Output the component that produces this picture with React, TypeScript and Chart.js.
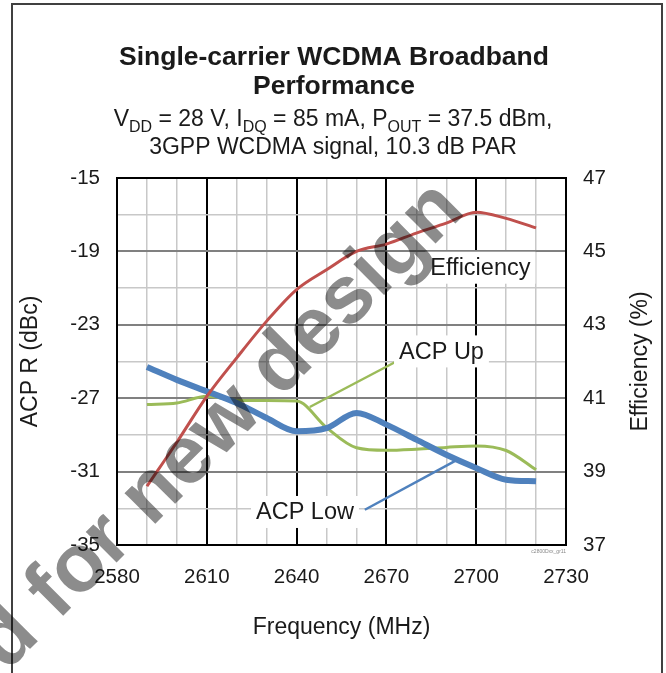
import { useEffect, useRef } from "react";
import { Chart, registerables } from "chart.js";

Chart.register(...registerables);

const frequencies = [2590, 2600, 2610, 2620, 2630, 2640, 2650, 2660, 2670, 2680, 2690, 2700, 2710, 2720];
const efficiency = [38.6, 39.8, 41.05, 42.1, 43.1, 43.96, 44.5, 45.0, 45.2, 45.5, 45.77, 46.07, 45.9, 45.64];
const acpLow = [-25.3, -26.0, -26.63, -27.26, -28.08, -28.8, -28.63, -27.8, -28.44, -29.26, -30.08, -30.8, -31.44, -31.53];
const acpUp = [-27.35, -27.26, -26.9, -27.12, -27.12, -27.15, -28.6, -29.7, -29.84, -29.78, -29.68, -29.6, -29.85, -30.9];

const titleLines = ["Single-carrier WCDMA Broadband", "Performance"];
const xTitle = "Frequency (MHz)";
const yLeftTitle = "ACP R (dBc)";
const yRightTitle = "Efficiency (%)";

const FONT = "'Liberation Sans', Arial, sans-serif";
const TEXT = "#1a1a1a";

type Run = { t: string; sub?: boolean };
const subtitle1: Run[] = [
  { t: "V" }, { t: "DD", sub: true }, { t: " = 28 V, I" }, { t: "DQ", sub: true },
  { t: " = 85 mA, P" }, { t: "OUT", sub: true }, { t: " = 37.5 dBm," },
];
const subtitle2 = "3GPP WCDMA signal, 10.3 dB PAR";

function drawRuns(ctx: CanvasRenderingContext2D, runs: Run[], cx: number, y: number, size: number) {
  const subSize = Math.round(size * 0.68);
  let total = 0;
  const widths = runs.map((r) => {
    ctx.font = `${r.sub ? subSize : size}px ${FONT}`;
    const w = ctx.measureText(r.t).width;
    total += w;
    return w;
  });
  let x = cx - total / 2;
  ctx.textAlign = "left";
  ctx.textBaseline = "alphabetic";
  runs.forEach((r, i) => {
    ctx.font = `${r.sub ? subSize : size}px ${FONT}`;
    ctx.fillText(r.t, x, r.sub ? y + size * 0.24 : y);
    x += widths[i];
  });
}

const overlayPlugin = {
  id: "overlay",
  afterDatasetsDraw(chart: any) {
    const { ctx, chartArea, scales } = chart;
    const xs = scales.x;
    const yl = scales.y;
    ctx.save();
    ctx.strokeStyle = "#000";
    ctx.lineWidth = 2;
    ctx.strokeRect(chartArea.left, chartArea.top, chartArea.right - chartArea.left, chartArea.bottom - chartArea.top);

    const label = (text: string, fx: number, fy: number) => {
      const px = xs.getPixelForValue(fx);
      const py = yl.getPixelForValue(fy);
      ctx.font = `23.5px ${FONT}`;
      const w = ctx.measureText(text).width;
      ctx.fillStyle = "#fff";
      ctx.fillRect(px - w / 2 - 5, py - 16, w + 10, 32);
      ctx.fillStyle = TEXT;
      ctx.textAlign = "center";
      ctx.textBaseline = "middle";
      ctx.fillText(text, px, py + 1);
    };
    const leader = (color: string, f1: number, v1: number, f2: number, v2: number) => {
      ctx.strokeStyle = color;
      ctx.lineWidth = 2.5;
      ctx.beginPath();
      ctx.moveTo(xs.getPixelForValue(f1), yl.getPixelForValue(v1));
      ctx.lineTo(xs.getPixelForValue(f2), yl.getPixelForValue(v2));
      ctx.stroke();
    };
    leader("#9BBB59", 2644.4, -27.48, 2673.3, -25.0);
    leader("#4F81BD", 2662.8, -33.08, 2693.3, -30.39);
    label("Efficiency", 2701.4, -19.89);
    label("ACP Up", 2688.4, -24.45);
    label("ACP Low", 2642.8, -33.2);

    ctx.fillStyle = "#888";
    ctx.font = `5px ${FONT}`;
    ctx.textAlign = "right";
    ctx.textBaseline = "top";
    ctx.fillText("c2800Dxx_gr11", chartArea.right, chartArea.bottom + 4);
    ctx.restore();
  },
  afterDraw(chart: any) {
    const { ctx, chartArea } = chart;
    ctx.save();
    ctx.strokeStyle = "#404040";
    ctx.lineWidth = 2;
    ctx.strokeRect(12, 4, 650, 690);

    ctx.fillStyle = TEXT;
    ctx.textAlign = "center";
    ctx.textBaseline = "alphabetic";
    ctx.font = `bold 26.5px ${FONT}`;
    ctx.fillText(titleLines[0], 334, 65);
    ctx.fillText(titleLines[1], 334, 94);
    drawRuns(ctx, subtitle1, 333, 126, 23);
    ctx.font = `23px ${FONT}`;
    ctx.textAlign = "center";
    ctx.fillText(subtitle2, 333, 154);

    ctx.font = `23px ${FONT}`;
    ctx.textBaseline = "middle";
    ctx.fillText(xTitle, (chartArea.left + chartArea.right) / 2, 628);
    ctx.save();
    ctx.translate(31, (chartArea.top + chartArea.bottom) / 2);
    ctx.rotate(-Math.PI / 2);
    ctx.fillText(yLeftTitle, 0, 0);
    ctx.restore();
    ctx.save();
    ctx.translate(641, (chartArea.top + chartArea.bottom) / 2);
    ctx.rotate(-Math.PI / 2);
    ctx.fillText(yRightTitle, 0, 0);
    ctx.restore();

    ctx.save();
    ctx.globalCompositeOperation = "multiply";
    ctx.translate(467, 212);
    ctx.rotate(-Math.PI / 4);
    ctx.font = `bold 82px ${FONT}`;
    ctx.fillStyle = "#8c8c8c";
    ctx.textAlign = "right";
    ctx.textBaseline = "alphabetic";
    ctx.fillText("Not recommended for new design", 0, 0);
    ctx.restore();
    ctx.restore();
  },
};

export default function App() {
  const ref = useRef<HTMLCanvasElement | null>(null);
  useEffect(() => {
    if (!ref.current) return;
    const toPts = (vals: number[]) => frequencies.map((f, i) => ({ x: f, y: vals[i] }));
    const chart = new Chart(ref.current, {
      type: "line",
      data: {
        datasets: [
          { label: "Efficiency", data: toPts(efficiency), yAxisID: "y1", borderColor: "#C0504D", borderWidth: 3, pointRadius: 0, cubicInterpolationMode: "monotone" },
          { label: "ACP Low", data: toPts(acpLow), yAxisID: "y", borderColor: "#4F81BD", borderWidth: 6, pointRadius: 0, cubicInterpolationMode: "monotone" },
          { label: "ACP Up", data: toPts(acpUp), yAxisID: "y", borderColor: "#9BBB59", borderWidth: 3, pointRadius: 0, cubicInterpolationMode: "monotone" },
        ],
      },
      options: {
        responsive: false,
        animation: false,
        layout: { padding: { top: 178, left: 0, right: 0, bottom: 0 } },
        plugins: { legend: { display: false }, title: { display: false }, tooltip: { enabled: false } },
        scales: {
          x: {
            type: "linear",
            min: 2580,
            max: 2730,
            border: { display: false },
            ticks: {
              stepSize: 10,
              autoSkip: false,
              maxRotation: 0,
              padding: 20,
              color: TEXT,
              font: { family: FONT, size: 20.5 },
              callback: (v: any) => (Number(v) % 30 === 0 ? String(v) : ""),
            },
            grid: {
              drawTicks: false,
              color: (c: any) => (c.tick && c.tick.value % 30 === 0 ? "#000" : "#c8c8c8"),
              lineWidth: (c: any) => (c.tick && c.tick.value % 30 === 0 ? 2 : 1.5),
            },
            afterFit: (s: any) => { s.height = 128; },
          },
          y: {
            position: "left",
            min: -35,
            max: -15,
            border: { display: false },
            ticks: {
              stepSize: 2,
              autoSkip: false,
              padding: 17,
              color: TEXT,
              font: { family: FONT, size: 20.5 },
              callback: (v: any) => ((Number(v) + 35) % 4 === 0 ? String(v) : ""),
            },
            grid: {
              drawTicks: false,
              color: (c: any) => (c.tick && (c.tick.value + 35) % 4 === 0 ? "#808080" : "#c8c8c8"),
              lineWidth: (c: any) => (c.tick && (c.tick.value + 35) % 4 === 0 ? 2 : 1.5),
            },
            afterFit: (s: any) => { s.width = 117; },
          },
          y1: {
            position: "right",
            min: 37,
            max: 47,
            border: { display: false },
            ticks: { stepSize: 2, padding: 17, color: TEXT, font: { family: FONT, size: 20.5 } },
            grid: { drawOnChartArea: false, drawTicks: false },
            afterFit: (s: any) => { s.width = 100; },
          },
        },
      },
      plugins: [overlayPlugin],
    } as any);
    return () => chart.destroy();
  }, []);
  return (
    <div style={{ position: "absolute", left: 0, top: 0, width: 666, height: 673, background: "#fff" }}>
      <canvas ref={ref} width={666} height={673} style={{ display: "block" }} />
    </div>
  );
}
